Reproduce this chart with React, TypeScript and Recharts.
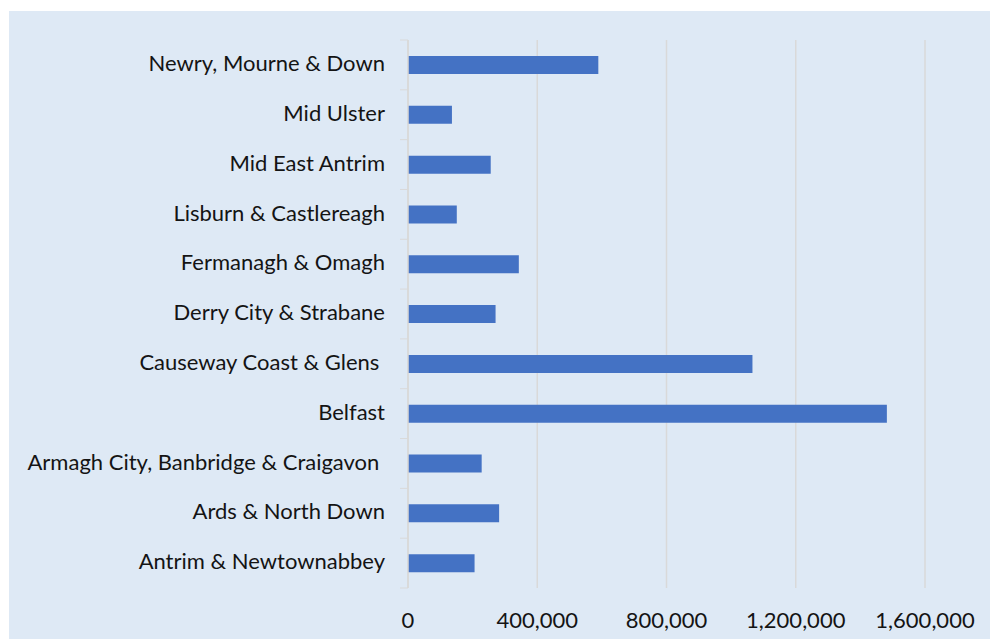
import { Bar, BarChart, CartesianGrid, XAxis, YAxis } from "recharts";

const councils = [
  "Newry, Mourne & Down",
  "Mid Ulster",
  "Mid East Antrim",
  "Lisburn & Castlereagh",
  "Fermanagh & Omagh",
  "Derry City & Strabane",
  "Causeway Coast & Glens ",
  "Belfast",
  "Armagh City, Banbridge & Craigavon ",
  "Ards & North Down",
  "Antrim & Newtownabbey",
];

const totals = [
  589000, 136000, 256000, 151000, 343000, 271000, 1066000, 1482000, 228000,
  282000, 206000,
];

const xTicks = [0, 400000, 800000, 1200000, 1600000];

const data = councils.map((name, i) => ({ name, value: totals[i] }));

const FONT = "Lato, 'Open Sans', sans-serif";
const BAND = 548 / councils.length;

function CouncilTick(props: any) {
  const { x, y, payload, index } = props;
  const axisX = x + 23;
  return (
    <g>
      <text
        x={x}
        y={y}
        dy="0.28em"
        textAnchor="end"
        fill="#141414"
        fontSize={22}
        fontFamily={FONT}
        style={{ whiteSpace: "pre" }}
      >
        {payload.value}
      </text>
      <line
        x1={axisX - 8}
        x2={axisX}
        y1={y - BAND / 2}
        y2={y - BAND / 2}
        stroke="#d9d9d9"
      />
      {index === councils.length - 1 ? (
        <line
          x1={axisX - 8}
          x2={axisX}
          y1={y + BAND / 2}
          y2={y + BAND / 2}
          stroke="#d9d9d9"
        />
      ) : null}
    </g>
  );
}

export default function App() {
  return (
    <div
      style={{
        position: "absolute",
        left: 0,
        top: 0,
        width: 990,
        height: 639,
        background: "#ffffff",
      }}
    >
      <div
        style={{
          position: "absolute",
          left: 9,
          top: 11,
          width: 981,
          height: 628,
          background: "#dee9f5",
        }}
      >
        <BarChart
          layout="vertical"
          width={981}
          height={628}
          data={data}
          margin={{ top: 29, right: 65, bottom: 6, left: 0 }}
        >
          <CartesianGrid
            horizontal={false}
            stroke="#d9d9d9"
            strokeWidth={1.5}
          />
          <XAxis
            type="number"
            domain={[0, 1600000]}
            ticks={xTicks}
            tickFormatter={(v: number) => v.toLocaleString("en-US")}
            axisLine={false}
            tickLine={false}
            tickMargin={18}
            height={45}
            tick={{ fill: "#141414", fontSize: 22, fontFamily: FONT }}
          />
          <YAxis
            type="category"
            dataKey="name"
            width={399}
            axisLine={{ stroke: "#d9d9d9", strokeWidth: 1.5 }}
            tickLine={false}
            tickSize={8}
            tickMargin={15}
            tick={<CouncilTick />}
            interval={0}
          />
          <Bar
            dataKey="value"
            fill="#4472c4"
            barSize={18}
            isAnimationActive={false}
          />
        </BarChart>
      </div>
    </div>
  );
}
